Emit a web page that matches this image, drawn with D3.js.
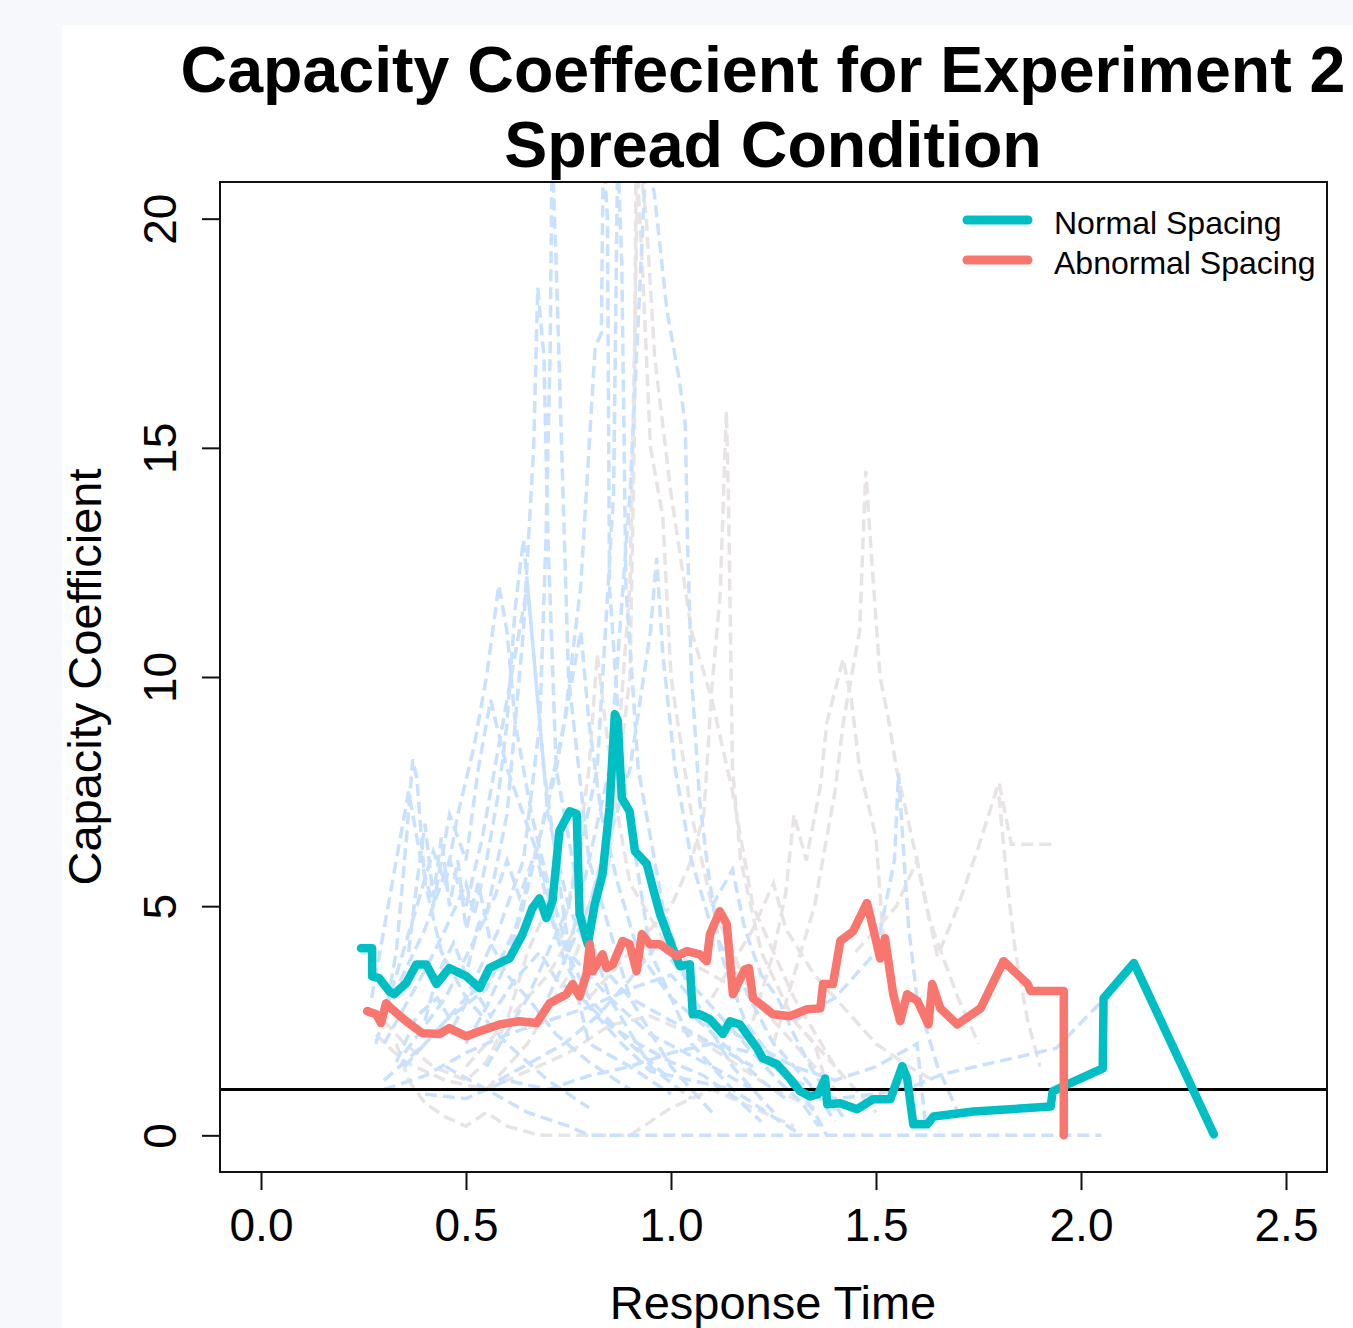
<!DOCTYPE html>
<html>
<head>
<meta charset="utf-8">
<script src="https://cdn.jsdelivr.net/npm/d3@7"></script>
<style>
  html, body { margin: 0; padding: 0; background: #f6f8fc; }
  svg { display: block; }
  text { font-family: "Liberation Sans", Arial, sans-serif; }
</style>
</head>
<body>
<svg id="chart" width="1353" height="1328"></svg>
<script>
// ---------------- DATA ----------------
const titleLines = ["Capacity Coeffecient for Experiment 2", "Spread Condition"];
const xLabel = "Response Time";
const yLabel = "Capacity Coefficient";
const xTicks = [0, 0.5, 1.0, 1.5, 2.0, 2.5];
const yTicks = [0, 5, 10, 15, 20];
const referenceLevel = 1;
const seriesNames = ["Normal Spacing", "Abnormal Spacing"];
const seriesColors = ["#00BFC4", "#F8766D"];

// group mean: Normal Spacing  [response time, capacity]
const normalSpacing = [
  [0.244,4.08],[0.271,4.08],[0.271,3.47],[0.288,3.43],[0.313,3.14],[0.325,3.08],[0.354,3.32],
  [0.379,3.73],[0.403,3.73],[0.428,3.30],[0.459,3.65],[0.501,3.47],[0.533,3.21],[0.557,3.65],
  [0.606,3.86],[0.638,4.39],[0.662,4.96],[0.679,5.17],[0.696,4.74],[0.711,5.11],[0.728,6.64],
  [0.753,7.07],[0.770,7.01],[0.777,4.83],[0.797,4.17],[0.814,5.04],[0.833,5.70],[0.850,7.14],
  [0.863,9.19],[0.870,9.04],[0.880,7.36],[0.899,7.07],[0.912,6.20],[0.941,5.92],[0.956,5.39],
  [0.973,4.83],[1.004,4.08],[1.022,3.69],[1.046,3.73],[1.053,2.64],[1.070,2.64],[1.095,2.53],
  [1.127,2.21],[1.144,2.49],[1.168,2.42],[1.210,1.90],[1.224,1.68],[1.259,1.55],[1.290,1.24],
  [1.315,0.96],[1.339,0.85],[1.359,0.90],[1.376,1.24],[1.381,0.68],[1.413,0.70],[1.454,0.57],
  [1.493,0.79],[1.535,0.79],[1.564,1.51],[1.576,1.24],[1.591,0.24],[1.625,0.24],[1.640,0.41],
  [1.738,0.52],[1.860,0.59],[1.926,0.63],[1.931,0.96],[1.967,1.11],[2.053,1.46],[2.055,2.99],
  [2.129,3.76],[2.324,0.02]
];

// group mean: Abnormal Spacing
const abnormalSpacing = [
  [0.259,2.71],[0.281,2.64],[0.293,2.45],[0.305,2.88],[0.320,2.75],[0.354,2.49],[0.393,2.23],
  [0.435,2.21],[0.459,2.34],[0.501,2.16],[0.533,2.27],[0.582,2.42],[0.630,2.49],[0.672,2.45],
  [0.704,2.88],[0.745,3.08],[0.760,3.30],[0.777,3.03],[0.794,3.52],[0.802,4.17],[0.809,3.58],
  [0.833,3.95],[0.843,3.65],[0.858,3.73],[0.882,4.24],[0.899,4.17],[0.916,3.58],[0.929,4.39],
  [0.948,4.17],[0.973,4.17],[1.014,3.91],[1.039,4.02],[1.070,3.95],[1.087,3.80],[1.095,4.39],
  [1.119,4.89],[1.136,4.61],[1.151,3.08],[1.168,3.40],[1.180,3.62],[1.190,3.65],[1.200,2.99],
  [1.249,2.64],[1.290,2.60],[1.332,2.75],[1.364,2.77],[1.371,3.30],[1.395,3.30],[1.413,4.24],
  [1.444,4.45],[1.478,5.07],[1.493,4.52],[1.510,3.86],[1.522,4.30],[1.542,3.08],[1.559,2.49],
  [1.576,3.08],[1.601,2.93],[1.628,2.42],[1.637,3.30],[1.657,2.77],[1.698,2.42],[1.755,2.77],
  [1.811,3.80],[1.870,3.30],[1.877,3.15],[1.958,3.15],[1.958,0.0]
];

// individual participants, normal spacing (light blue, dashed)
const participantsNormal = [
  [[0.35,1.5],[0.45,2.5],[0.55,3.2],[0.62,4.5],[0.68,6.5],[0.74,9],[0.78,12],[0.80,15],[0.815,17.2],[0.83,17.5],[0.835,21.5],[0.845,20],[0.85,12],[0.88,8],[0.95,4],[1.05,2],[1.15,1],[1.25,0.4],[1.32,0]],
  [[0.30,1.2],[0.40,2],[0.50,3],[0.58,4.5],[0.64,6],[0.68,9],[0.695,13],[0.705,17],[0.71,21.5],[0.72,19],[0.75,10],[0.80,6],[0.90,3],[1.00,1.5],[1.10,0.5]],
  [[0.35,1.8],[0.45,3],[0.55,4.8],[0.60,7],[0.64,11],[0.665,15],[0.675,18.5],[0.69,17],[0.70,13],[0.72,8],[0.78,5],[0.85,3],[0.95,1.5],[1.05,0.8]],
  [[0.55,1.5],[0.65,3],[0.75,5],[0.82,8],[0.86,14],[0.87,21.5],[0.88,19],[0.89,12],[0.92,8],[0.98,5],[1.05,3],[1.15,1.5],[1.25,0.5]],
  [[0.75,4],[0.85,8],[0.90,14],[0.94,21.5],[0.96,20.5],[0.99,18],[1.02,16.5],[1.035,15.5],[1.04,13],[1.05,10],[1.07,7.3],[1.09,5.8],[1.12,4],[1.18,2.5],[1.30,1]],
  [[0.30,2.5],[0.33,4],[0.355,6.5],[0.37,8.2],[0.38,7.8],[0.40,5.5],[0.44,4],[0.50,3],[0.60,2],[0.70,1.2],[0.80,0.6]],
  [[1.30,2.5],[1.40,3],[1.50,4],[1.545,6],[1.555,7.9],[1.565,6.5],[1.58,4.5],[1.60,3],[1.65,1.5],[1.70,0.5]],
  [[0.45,1.5],[0.55,1.0],[0.65,0.5],[0.75,0.2],[0.80,0],[0.95,0],[1.40,0],[2.05,0]],
  [[1.20,2],[1.30,1.2],[1.40,0.8],[1.50,0.9],[1.60,1.1],[1.66,1.33],[1.94,1.9],[2.05,2.92]],
  [[0.70,3],[0.80,5],[0.90,8],[0.95,11],[0.965,12.6],[0.98,10.5],[1.01,8],[1.05,6],[1.10,4.5],[1.18,3.2],[1.25,2],[1.35,1],[1.40,0.3]],
  [[0.28,2],[0.33,3.5],[0.38,5],[0.42,6.2],[0.45,5.5],[0.48,7],[0.52,8.5],[0.55,10],[0.58,12],[0.60,11],[0.62,9],[0.66,7],[0.70,5.5],[0.75,4],[0.85,3],[0.95,2.2],[1.10,1.5],[1.20,1]],
  [[0.30,1],[0.40,1.3],[0.50,1.8],[0.60,2.2],[0.70,2.5],[0.80,2.8],[0.90,3.2],[1.00,3.5],[1.05,3],[1.10,2.5],[1.20,2],[1.30,1.5],[1.40,1.2],[1.50,1.5],[1.60,2],[1.62,0.3]],
  [[0.32,3],[0.40,4.5],[0.46,6],[0.50,5],[0.54,6.5],[0.57,8],[0.60,9.5],[0.63,11],[0.65,12],[0.67,10],[0.69,8],[0.72,6],[0.76,3.5],[0.80,2],[0.90,1.5],[1.00,0.9]],
  [[0.27,3],[0.30,4.5],[0.33,6],[0.36,7.5],[0.39,6],[0.42,5],[0.46,7],[0.50,6],[0.53,8],[0.56,9.5],[0.60,8],[0.64,7],[0.68,6],[0.72,4.5],[0.80,3],[0.90,2],[1.00,1.2]],
  [[0.40,0.9],[0.50,0.8],[0.60,1.2],[0.70,1],[0.80,1.3],[0.90,1.5],[1.00,1.8],[1.10,2],[1.20,1.8],[1.30,1.2],[1.35,0.5],[1.38,0]],
  [[0.30,2],[0.35,2.8],[0.40,3.6],[0.45,4.5],[0.50,5.5],[0.52,4.8],[0.55,6],[0.58,7.5],[0.60,9],[0.62,11.5],[0.64,13],[0.66,11],[0.68,9],[0.70,7],[0.75,5],[0.80,4],[0.90,3],[1.00,2.5],[1.10,2],[1.20,1.5]],
  [[1.10,5],[1.15,5.8],[1.18,4.5],[1.22,3.5],[1.26,3],[1.30,2.2],[1.34,1.5],[1.38,0.9],[1.42,0.4]],
  [[0.36,4],[0.38,5.5],[0.40,6.8],[0.42,5.2],[0.44,6.5],[0.46,5],[0.48,6],[0.50,4.5],[0.53,5.5],[0.56,4.2],[0.60,3.5],[0.65,3],[0.72,2.2],[0.80,1.6],[0.90,1]],
  [[0.40,2.5],[0.43,3.5],[0.47,4.2],[0.50,3.5],[0.53,4.6],[0.57,5.2],[0.60,6],[0.63,5.2],[0.67,6.2],[0.70,5],[0.74,3.8],[0.80,2.8],[0.88,2],[0.95,1.4],[1.05,1.2],[1.15,1]],
  [[0.33,1.6],[0.38,2.6],[0.43,3],[0.47,2.4],[0.52,3.2],[0.56,2.6],[0.62,3.4],[0.68,4],[0.72,3.4],[0.78,3],[0.85,2.4],[0.92,2],[1.00,1.6],[1.08,1.3],[1.16,0.8],[1.22,0.3]],
  [[0.50,2],[0.55,2.8],[0.60,3.8],[0.64,5],[0.68,6.5],[0.72,8],[0.75,9.5],[0.78,11],[0.80,9],[0.83,7],[0.87,5.5],[0.92,4],[1.00,3],[1.08,2.4],[1.15,1.8],[1.22,1.2],[1.28,0.8]],
  [[0.58,1.2],[0.66,1.6],[0.74,2],[0.82,2.6],[0.90,3.4],[0.97,4.2],[1.02,3.6],[1.08,3],[1.14,2.4],[1.20,1.8],[1.26,1.2],[1.32,0.7],[1.36,0.2]]
];

// individual participants, abnormal spacing (light grey, dashed)
const participantsAbnormal = [
  [[0.55,1],[0.65,2],[0.75,3.5],[0.85,6],[0.90,12],[0.92,21.5],[0.94,20],[0.96,17],[1.00,14],[1.05,11],[1.10,9.5],[1.15,7.5],[1.20,5],[1.30,3],[1.40,1.5],[1.50,0.5]],
  [[0.50,1.5],[0.60,2.5],[0.70,3.5],[0.80,5],[0.86,7],[0.90,10],[0.91,15],[0.915,21.5],[0.93,19],[0.95,15],[0.98,13.5],[1.00,10],[1.05,7],[1.10,5],[1.20,3],[1.30,2],[1.40,1]],
  [[0.80,3],[0.90,4],[1.00,5],[1.05,6],[1.08,7],[1.10,9.8],[1.12,11.8],[1.135,15.8],[1.14,14],[1.15,8],[1.17,6],[1.22,4],[1.30,2.5],[1.40,1.5]],
  [[1.25,2],[1.30,3.5],[1.35,5],[1.40,7.5],[1.42,9],[1.44,10],[1.46,11],[1.475,14.5],[1.49,12.5],[1.51,10],[1.53,9.1],[1.55,8],[1.60,6],[1.63,4.7],[1.70,3],[1.75,2]],
  [[1.20,2.5],[1.25,4],[1.28,5.3],[1.30,7],[1.33,6],[1.364,7.6],[1.38,9],[1.42,10.4],[1.44,9.5],[1.46,8],[1.50,6.5],[1.52,4],[1.55,2.5]],
  [[1.45,4],[1.55,5],[1.60,6],[1.65,3.9],[1.70,5],[1.75,6.3],[1.80,7.7],[1.82,6.8],[1.83,6.35],[1.94,6.35]],
  [[1.80,7.4],[1.82,5.5],[1.84,4],[1.87,2.5],[1.90,1.5]],
  [[0.33,2],[0.36,1.2],[0.40,0.7],[0.45,0.4],[0.50,0.2],[0.55,0.5],[0.60,0.2],[0.68,0],[0.78,0],[0.90,0],[0.95,0.3],[1.00,0.6],[1.10,1],[1.20,0.6],[1.30,0.2]],
  [[0.30,2.5],[0.35,2],[0.42,1.5],[0.50,1.2],[0.55,1.6],[0.60,2.5],[0.65,4],[0.70,5],[0.73,4.2],[0.77,6],[0.80,8],[0.82,10.5],[0.84,9],[0.87,7],[0.90,5.5],[1.00,4],[1.10,3.5],[1.20,3],[1.30,2.5],[1.35,2],[1.40,0.5]],
  [[1.10,3],[1.20,4.5],[1.25,5.5],[1.28,4.5],[1.35,3.5],[1.40,3],[1.45,2.5],[1.50,2],[1.58,1.5],[1.64,1.2]],
  [[0.28,2.2],[0.35,1.6],[0.45,1.2],[0.55,1.0],[0.65,1.4],[0.75,1.8],[0.85,2.4],[0.95,2.6],[1.05,2.2],[1.15,1.6],[1.25,1.0],[1.35,0.6]]
];

// ---------------- DRAWING ----------------
const W = 1353, H = 1328;
const plot = {left: 220, right: 1327, top: 182, bottom: 1172};
const svg = d3.select("#chart");

svg.append("rect").attr("x", 0).attr("y", 0).attr("width", W).attr("height", H).attr("fill", "#f6f8fc");
svg.append("rect").attr("x", 62).attr("y", 25).attr("width", W - 62).attr("height", H - 25).attr("fill", "#ffffff");

const x = d3.scaleLinear().domain([-0.1, 2.6]).range([plot.left, plot.right]);
const y = d3.scaleLinear().domain([-0.8, 20.8]).range([plot.bottom, plot.top]);

svg.append("clipPath").attr("id", "plotClip")
  .append("rect").attr("x", plot.left).attr("y", plot.top)
  .attr("width", plot.right - plot.left).attr("height", plot.bottom - plot.top);

const line = d3.line().x(d => x(d[0])).y(d => y(d[1]));
const g = svg.append("g").attr("clip-path", "url(#plotClip)");

// background participants
participantsAbnormal.forEach(p => {
  g.append("path").attr("d", line(p)).attr("fill", "none")
    .attr("stroke", "#E8E4E4").attr("stroke-width", 3.5).attr("stroke-dasharray", "12,6");
});
participantsNormal.forEach(p => {
  g.append("path").attr("d", line(p)).attr("fill", "none")
    .attr("stroke", "#C8E1FF").attr("stroke-width", 3.5).attr("stroke-dasharray", "12,6");
});

// reference line at 1
g.append("line").attr("x1", plot.left).attr("x2", plot.right)
  .attr("y1", y(referenceLevel)).attr("y2", y(referenceLevel))
  .attr("stroke", "#000").attr("stroke-width", 3);

// group means
[normalSpacing, abnormalSpacing].forEach((s, i) => {
  g.append("path").attr("d", line(s)).attr("fill", "none")
    .attr("stroke", seriesColors[i]).attr("stroke-width", 8.5)
    .attr("stroke-linejoin", "round").attr("stroke-linecap", "round");
});

// box
svg.append("rect").attr("x", plot.left).attr("y", plot.top)
  .attr("width", plot.right - plot.left).attr("height", plot.bottom - plot.top)
  .attr("fill", "none").attr("stroke", "#111").attr("stroke-width", 2);

// axes
const xAxis = svg.append("g").attr("transform", `translate(0,${plot.bottom})`)
  .call(d3.axisBottom(x).tickValues(xTicks).tickFormat(d3.format(".1f")).tickSize(18).tickPadding(18));
xAxis.select(".domain").remove();
xAxis.selectAll("line").attr("stroke", "#111").attr("stroke-width", 2);
xAxis.selectAll("text").attr("font-size", 46).attr("fill", "#000")
  .style("font-family", "'Liberation Sans', Arial, sans-serif");

const yAxis = svg.append("g").attr("transform", `translate(${plot.left},0)`)
  .call(d3.axisLeft(y).tickValues(yTicks).tickFormat(d3.format("d")).tickSize(18));
yAxis.select(".domain").remove();
yAxis.selectAll("line").attr("stroke", "#111").attr("stroke-width", 2);
yAxis.selectAll("text")
  .attr("font-size", 46).attr("fill", "#000")
  .style("font-family", "'Liberation Sans', Arial, sans-serif")
  .attr("x", null).attr("dy", null)
  .attr("text-anchor", "middle")
  .attr("transform", "translate(-44,0) rotate(-90)");

// titles
svg.append("text").attr("x", 763).attr("y", 92).attr("text-anchor", "middle")
  .attr("font-size", 64.5).attr("font-weight", "bold").text(titleLines[0]);
svg.append("text").attr("x", 773).attr("y", 167).attr("text-anchor", "middle")
  .attr("font-size", 64.5).attr("font-weight", "bold").text(titleLines[1]);

svg.append("text").attr("x", 773).attr("y", 1319).attr("text-anchor", "middle")
  .attr("font-size", 47).text(xLabel);
svg.append("text").attr("transform", `translate(101,677) rotate(-90)`)
  .attr("text-anchor", "middle").attr("font-size", 47).text(yLabel);

// legend
seriesNames.forEach((name, i) => {
  const ly = 220 + i * 40;
  svg.append("line").attr("x1", 967).attr("x2", 1028).attr("y1", ly).attr("y2", ly)
    .attr("stroke", seriesColors[i]).attr("stroke-width", 9).attr("stroke-linecap", "round");
  svg.append("text").attr("x", 1054).attr("y", ly + 14).attr("font-size", 32).text(name);
});
</script>
</body>
</html>
